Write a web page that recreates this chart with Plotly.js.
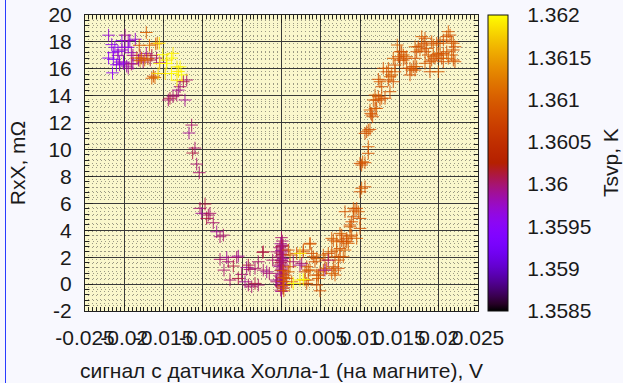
<!DOCTYPE html>
<html><head><meta charset="utf-8">
<script src="https://cdn.plot.ly/plotly-3.0.1.min.js"></script>
<style>
html,body{margin:0;padding:0;background:#f8f8fe;}
#wrap{position:relative;width:623px;height:383px;overflow:hidden;}
#edge{position:absolute;left:5px;top:0;width:1px;height:383px;background:#2a3cff;}
</style>
</head><body>
<div id="wrap"><div id="chart" style="width:623px;height:383px"></div><div id="edge"></div></div>
<script>
// ---- tick labels ----
const xTickVals = [-0.025,-0.02,-0.015,-0.01,-0.005,0,0.005,0.01,0.015,0.02,0.025];
const xTickText = ['-0.025','-0.02','-0.015','-0.01','-0.005','0','0.005','0.01','0.015','0.02','0.025'];
const yTickVals = [-2,0,2,4,6,8,10,12,14,16,18,20];
const yTickText = ['-2','0','2','4','6','8','10','12','14','16','18','20'];
const cbTickVals = [1.3585,1.359,1.3595,1.36,1.3605,1.361,1.3615,1.362];
const cbTickText = ['1.3585','1.359','1.3595','1.36','1.3605','1.361','1.3615','1.362'];

// ---- data: Hall signal (V), RxX (mOhm), Tsvp (K) ----
// left top cluster, violet
const leftVioletX = [-0.0220,-0.0203,-0.0193,-0.0186,-0.0216,-0.0212,-0.0208,-0.0203,-0.0214,-0.0208,-0.0220,-0.0214,-0.0206,-0.0201,-0.0210,-0.0206,-0.0201,-0.0197,-0.0215,-0.0199,-0.0195,-0.0199,-0.0195,-0.0191];
const leftVioletY = [18.5,18.1,18.1,18.2,17.8,17.6,17.3,17.4,17.2,17.0,16.8,16.7,16.5,16.5,16.3,16.3,16.4,16.2,15.7,18.5,18.1,17.6,17.6,17.2];
const leftVioletT = [1.3597,1.3595,1.3596,1.3597,1.3596,1.3595,1.3594,1.3597,1.3596,1.3598,1.3595,1.3594,1.3596,1.3598,1.3595,1.3597,1.3596,1.3598,1.3595,1.3599,1.3598,1.3597,1.3596,1.3598];
// left top cluster, magenta
const leftMagentaX = [-0.0189,-0.0180,-0.0172,-0.0165,-0.0159,-0.0182,-0.0176,-0.0189,-0.0195,-0.0191,-0.0167,-0.0155];
const leftMagentaY = [17.0,17.0,17.15,17.0,16.8,16.65,16.5,16.4,16.05,16.35,16.65,16.45];
const leftMagentaT = [1.3599,1.3600,1.3599,1.3601,1.3600,1.3599,1.3600,1.3598,1.3599,1.3600,1.3601,1.3599];
// left top cluster, orange
const leftOrangeX = [-0.0172,-0.0181,-0.0168,-0.0160,-0.0158,-0.0184,-0.0178,-0.0174,-0.0170,-0.0180,-0.0165,-0.0163,-0.0161];
const leftOrangeY = [18.7,17.75,17.75,17.85,17.9,16.8,16.8,16.65,16.75,16.6,15.3,15.45,15.35];
const leftOrangeT = [1.3610,1.3609,1.3611,1.3610,1.3612,1.3609,1.3610,1.3611,1.3609,1.3610,1.3610,1.3609,1.3611];
// left top cluster, yellow
const leftYellowX = [-0.01555,-0.0151,-0.0138,-0.0140,-0.0146,-0.0155,-0.0146,-0.0133,-0.0129,-0.0148,-0.0140,-0.0131,-0.0127,-0.0133,-0.0157];
const leftYellowY = [17.9,17.05,17.15,16.8,16.65,16.4,16.4,16.15,16.15,15.65,15.65,15.8,15.55,15.15,15.65];
const leftYellowT = [1.3619,1.3620,1.3619,1.3620,1.3618,1.3619,1.3620,1.3619,1.3620,1.3618,1.3620,1.3619,1.3620,1.3619,1.3618];
// descending branch
const descX = [-0.01206,-0.01249,-0.01291,-0.01313,-0.01333,-0.01419,-0.0144,-0.01228,-0.0138,-0.01143,-0.01177,-0.01101,-0.0113,-0.01079,-0.01046,-0.01037,-0.00973,-0.01015,-0.00931,-0.0091,-0.00952,-0.00868,-0.00824,-0.00782,-0.0074];
const descY = [15.17,15.04,14.67,14.42,14.05,13.81,13.68,13.68,13.93,11.82,11.23,10.11,9.74,8.92,8.28,5.63,5.95,5.26,5.13,5.26,4.88,4.56,3.89,3.52,3.64];
const descT = [1.3600,1.3601,1.3600,1.3599,1.3600,1.3601,1.3600,1.3599,1.3600,1.3600,1.3599,1.3600,1.3601,1.3600,1.3600,1.3600,1.3601,1.3599,1.3600,1.3600,1.3601,1.3600,1.3599,1.3600,1.3600];
// bottom left, magenta
const bottomLeftX = [-0.00782,-0.00697,-0.00677,-0.00613,-0.0057,-0.0055,-0.00732,-0.00655,-0.0055,-0.00506,-0.00464,-0.00422,-0.00379,-0.00337,-0.00295,-0.00443,-0.00401,-0.00337,-0.00422,-0.00295,-0.00232,-0.00188,-0.00155,-0.00232,-0.00112,-0.00061,-0.0007,-0.00028,-0.00239,-0.00061];
const bottomLeftY = [1.84,1.99,1.66,1.34,1.99,2.08,1.04,0.30,0.42,0.72,0.17,-0.07,-0.20,0.05,-0.07,1.24,1.09,1.17,1.41,1.66,1.04,0.91,0.80,2.40,1.78,2.40,0.30,1.41,2.36,0.17];
const bottomLeftT = [1.3600,1.3599,1.3600,1.3601,1.3600,1.3599,1.3600,1.3600,1.3601,1.3600,1.3599,1.3600,1.3600,1.3601,1.3600,1.3599,1.3600,1.3600,1.3601,1.3600,1.3600,1.3599,1.3600,1.3601,1.3600,1.3600,1.3599,1.3600,1.3601,1.3600];
// zero-field column
const columnX = [0.0000,0.0001,-0.0001,0.0002,0.0000,-0.0002,0.0001,0.0000,0.0002,-0.0001,0.0001,0.0000,-0.0002,0.0002,0.0000,0.0001,-0.0001,0.0000,0.0002,-0.0002,0.0001,0.0000,-0.0001,0.0002,0.0000,0.0001,-0.0002,0.0000,0.0001,-0.0001,0.0002,0.0000,0.0001,-0.0001,0.0000,0.0002,-0.0001,0.0000,0.0001,0.0000,0.0002,0.0003,0.0002,0.0003,0.0002,0.0003];
const columnY = [3.45,3.2,3.0,2.9,2.8,2.7,2.6,2.5,2.4,2.3,2.2,2.1,2.0,1.9,1.8,1.7,1.6,1.5,1.4,1.3,1.2,1.1,1.0,0.9,0.8,0.7,0.6,0.5,0.4,0.3,0.2,0.1,0.0,-0.1,-0.2,-0.3,-0.45,-0.55,2.85,1.75,1.0,0.5,0.2,-0.1,-0.3,-0.5];
const columnT = [1.3600,1.3600,1.3599,1.3600,1.3601,1.3600,1.3600,1.3599,1.3600,1.3600,1.3601,1.3600,1.3600,1.3599,1.3600,1.3600,1.3601,1.3600,1.3600,1.3599,1.3600,1.3600,1.3601,1.3600,1.3600,1.3599,1.3600,1.3600,1.3601,1.3600,1.3600,1.3599,1.3600,1.3600,1.3601,1.3600,1.3600,1.3599,1.3600,1.3600,1.3609,1.3610,1.3609,1.3610,1.3609,1.3610];
// bottom right, orange
const bottomRightX = [0.00087,0.00108,0.00193,0.00277,0.00363,0.00384,0.00405,0.00448,0.00426,0.00108,0.00087,0.00045,0.00066,0.0013,0.00299,0.00321,0.00363,0.00341,0.00448,0.00468,0.00448,0.0049,0.00532,0.00595,0.00639,0.00702,0.00744,0.00681,0.00786,0.0083,0.00766,0.00639,0.00872,0.00999,0.00957,0.00893,0.00681,0.00639,0.00723,0.00659,0.00681,0.00575,0.00532,0.0049,0.00553,0.00468,0.00299,0.00321,0.00341,0.00808,0.00744,0.00723,0.0085,0.00363,0.00277,0.00744,0.00766,0.00659,0.00702,0.00786,0.0083,0.00872];
const bottomRightY = [2.53,2.16,2.28,2.40,2.97,2.28,2.03,1.91,1.66,1.29,0.91,0.67,0.42,0.17,0.91,1.29,1.04,0.30,0.67,0.42,-0.07,-0.50,2.16,2.28,2.40,2.53,2.65,2.03,2.03,3.15,3.27,3.40,4.39,4.14,3.40,3.64,1.04,0.80,1.17,1.29,0.67,1.17,1.04,0.91,1.78,0.67,0.30,0.05,1.04,2.53,2.03,1.78,3.03,3.03,2.53,3.77,3.64,3.27,3.15,3.15,3.40,3.52];
const bottomRightT = [1.3609,1.3610,1.3609,1.3609,1.3610,1.3609,1.3609,1.3610,1.3609,1.3609,1.3610,1.3609,1.3609,1.3610,1.3609,1.3609,1.3610,1.3609,1.3609,1.3610,1.3609,1.3609,1.3610,1.3609,1.3609,1.3610,1.3609,1.3609,1.3610,1.3609,1.3609,1.3610,1.3609,1.3609,1.3610,1.3609,1.3609,1.3610,1.3609,1.3609,1.3610,1.3609,1.3609,1.3610,1.3609,1.3609,1.3610,1.3609,1.3609,1.3610,1.3609,1.3609,1.3610,1.3609,1.3609,1.3610,1.3609,1.3609,1.3610,1.3609,1.3609,1.3610];
// bottom right, odd colours
const bottomRightOddX = [0.0015,0.00235,0.00257,0.00595,0.00553,0.00235,0.0015,0.00235,0.00277];
const bottomRightOddY = [1.66,1.41,1.54,1.78,1.04,2.28,0.05,0.30,0.35];
const bottomRightOddT = [1.3600,1.3599,1.3600,1.3600,1.3599,1.3619,1.3620,1.3619,1.3620];
// ascending branch
const ascX = [0.00808,0.00914,0.00935,0.00957,0.00977,0.00999,0.00914,0.00872,0.00893,0.00999,0.0102,0.01062,0.00999,0.01033,0.0102,0.01062,0.01104,0.01104,0.01084,0.01104,0.01126,0.01062,0.01126,0.01148,0.0119,0.01211,0.0116,0.01135,0.0119,0.01232,0.01253,0.01275,0.01317,0.0138,0.01168,0.01202,0.01232,0.01253,0.01275,0.01359,0.0138,0.01422,0.01444,0.01402,0.01338,0.01295,0.01359];
const ascY = [5.38,5.63,5.50,5.63,5.38,4.88,5.00,4.26,4.63,6.86,7.12,7.23,8.97,9.09,8.85,9.02,10.21,9.72,11.32,11.45,11.50,11.20,12.94,12.57,13.06,13.06,12.44,12.69,14.05,13.93,13.68,13.81,13.81,14.30,13.68,13.68,15.22,15.04,14.67,15.17,15.41,15.04,15.78,15.54,15.78,16.04,16.04];
const ascT = [1.3609,1.3610,1.3609,1.3609,1.3610,1.3609,1.3609,1.3610,1.3609,1.3609,1.3610,1.3609,1.3609,1.3610,1.3609,1.3609,1.3610,1.3609,1.3609,1.3610,1.3609,1.3609,1.3610,1.3609,1.3609,1.3610,1.3609,1.3609,1.3610,1.3609,1.3609,1.3610,1.3609,1.3609,1.3610,1.3609,1.3609,1.3610,1.3609,1.3609,1.3610,1.3609,1.3609,1.3610,1.3609,1.3609,1.3610];
// top right cluster
const rightTopX = [0.01444,0.01422,0.01486,0.01508,0.0155,0.0155,0.01571,0.01593,0.01508,0.01529,0.01473,0.01593,0.01635,0.01657,0.01677,0.01699,0.0172,0.01635,0.01699,0.01699,0.0174,0.01784,0.01762,0.01826,0.01847,0.01868,0.01813,0.0172,0.01826,0.01889,0.01911,0.01931,0.01953,0.01975,0.01995,0.02017,0.01889,0.01995,0.02038,0.02059,0.02017,0.02059,0.02102,0.02122,0.02144,0.02165,0.02186,0.02207,0.02186,0.02165,0.02186,0.02207,0.02122,0.02059,0.02102,0.01784,0.01826,0.01911,0.01931,0.01975];
const rightTopY = [16.28,16.78,16.90,16.65,17.03,16.65,16.78,16.90,17.27,17.27,17.77,16.04,16.04,15.91,16.16,15.91,16.16,15.54,16.78,17.64,17.64,17.77,17.40,17.27,17.52,17.03,17.90,17.27,16.41,16.53,16.65,16.90,16.78,17.03,17.15,17.03,15.78,15.78,16.78,16.53,17.90,18.14,18.39,18.76,18.51,18.01,17.90,17.64,17.40,17.03,16.65,16.53,16.78,17.15,17.27,18.39,18.27,18.01,17.77,17.90];
const rightTopT = [1.3609,1.3610,1.3609,1.3609,1.3610,1.3609,1.3609,1.3610,1.3609,1.3609,1.3610,1.3609,1.3609,1.3610,1.3609,1.3609,1.3610,1.3609,1.3609,1.3610,1.3609,1.3609,1.3610,1.3609,1.3609,1.3610,1.3609,1.3609,1.3610,1.3609,1.3609,1.3610,1.3609,1.3609,1.3610,1.3609,1.3609,1.3610,1.3609,1.3609,1.3610,1.3609,1.3609,1.3610,1.3609,1.3609,1.3610,1.3609,1.3609,1.3610,1.3609,1.3609,1.3610,1.3609,1.3609,1.3610,1.3609,1.3609,1.3610,1.3609];

const allX = [].concat(leftVioletX,leftMagentaX,leftOrangeX,descX,bottomLeftX,columnX,bottomRightX,ascX,rightTopX,bottomRightOddX,leftYellowX);
const allY = [].concat(leftVioletY,leftMagentaY,leftOrangeY,descY,bottomLeftY,columnY,bottomRightY,ascY,rightTopY,bottomRightOddY,leftYellowY);
const allT = [].concat(leftVioletT,leftMagentaT,leftOrangeT,descT,bottomLeftT,columnT,bottomRightT,ascT,rightTopT,bottomRightOddT,leftYellowT);

// gnuplot default palette (rgbformulae 7,5,15)
const palette = [];
for (let i = 0; i <= 40; i++) {
  const s = i / 40;
  const r = Math.round(255 * Math.sqrt(s));
  const g = Math.round(255 * s * s * s);
  const b = Math.round(255 * Math.max(0, Math.sin(2 * Math.PI * s)));
  palette.push([s, `rgb(${r},${g},${b})`]);
}

const cbX = 1.0254, cbW = 20 / 393;
const cbLines = cbTickVals.slice(1, -1).map(v => ({
  type:'line', xref:'paper', yref:'paper', layer:'above',
  x0:cbX, x1:cbX + cbW, y0:(v - 1.3585) / 0.0035, y1:(v - 1.3585) / 0.0035,
  line:{color:'#222', width:1}
}));

const trace = {
  type:'scatter', mode:'markers', x:allX, y:allY,
  marker:{
    symbol:'cross-thin-open', size:9, opacity:0.9, line:{width:1},
    color:allT, colorscale:palette, cmin:1.3585, cmax:1.362, showscale:true,
    colorbar:{
      x:cbX, xanchor:'left', xpad:0, ypad:0, y:0.5, yanchor:'middle',
      len:1, lenmode:'fraction', thickness:20, thicknessmode:'pixels',
      outlinecolor:'#111', outlinewidth:1,
      tickmode:'array', tickvals:cbTickVals, ticktext:cbTickText,
      ticks:'outside', ticklen:15, tickcolor:'rgba(0,0,0,0)',
      tickfont:{size:21, color:'#1a1a1a'}
    }
  },
  hoverinfo:'skip'
};

const axisCommon = {
  tickmode:'array', tickangle:0, ticks:'inside', ticklen:8, tickcolor:'#222', tickwidth:1,
  showline:true, linecolor:'#222', linewidth:1, mirror:'allticks',
  showgrid:true, gridcolor:'#3a3a3a', gridwidth:1, zeroline:false,
  tickfont:{size:21, color:'#1a1a1a'}
};

const layout = {
  width:623, height:383,
  paper_bgcolor:'#f8f8fe', plot_bgcolor:'#faf7cc',
  margin:{l:85, r:145, t:15, b:72, pad:0},
  font:{family:'"Liberation Sans", Arial, sans-serif', size:21, color:'#1a1a1a'},
  showlegend:false,
  xaxis:Object.assign({}, axisCommon, {
    range:[-0.025, 0.025], tickvals:xTickVals, ticktext:xTickText, ticklabelstandoff:8,
    minor:{dtick:0.0005, tick0:0, ticks:'inside', ticklen:4, tickcolor:'#222', showgrid:true, gridcolor:'#9c9a84', griddash:'1px,3px', gridwidth:1},
    title:{text:'сигнал с датчика Холла-1 (на магните), V', font:{size:21}, standoff:15}
  }),
  yaxis:Object.assign({}, axisCommon, {
    range:[-2, 20], tickvals:yTickVals, ticktext:yTickText, ticklabelstandoff:8,
    minor:{dtick:0.4, tick0:0, ticks:'inside', ticklen:4, tickcolor:'#222', showgrid:true, gridcolor:'#9c9a84', griddash:'1px,3px', gridwidth:1},
    title:{text:'RxX, mΩ', font:{size:21}, standoff:17}
  }),
  shapes:cbLines,
  annotations:[{
    text:'Tsvp, K', textangle:-90, xref:'paper', yref:'paper',
    x:(610 - 85) / 393, y:0.5, xanchor:'center', yanchor:'middle',
    showarrow:false, font:{size:21, color:'#1a1a1a'}
  }]
};

Plotly.newPlot('chart', [trace], layout, {staticPlot:true, displayModeBar:false});
</script>
</body></html>
